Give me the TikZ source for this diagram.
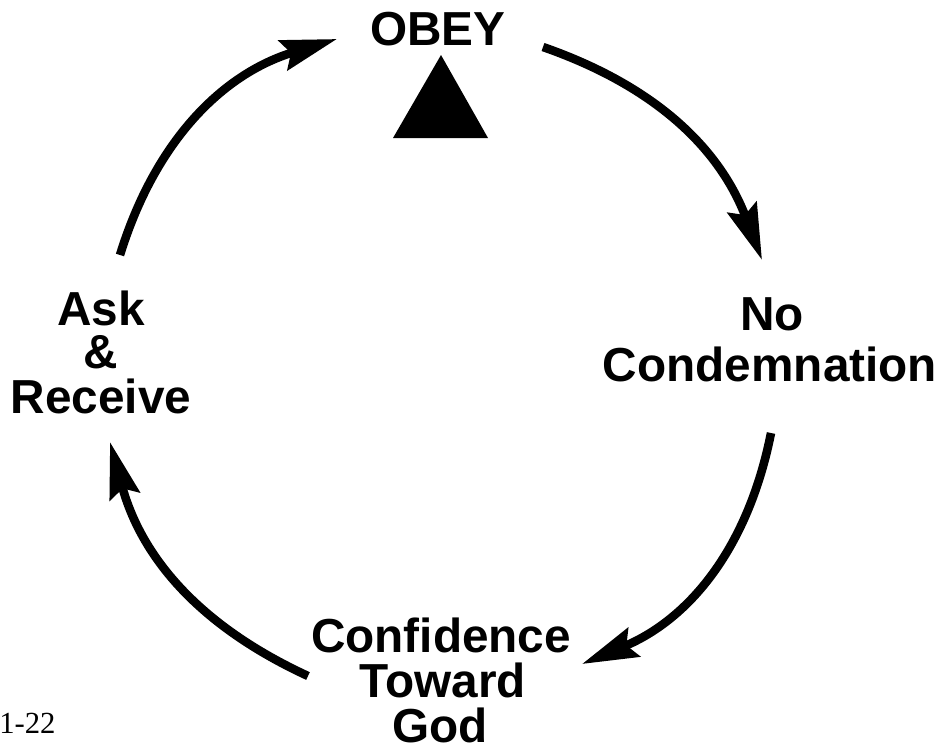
\documentclass[tikz,border=0pt]{standalone}
\usepackage{fontspec}
\setmainfont{Liberation Sans}
\newfontfamily\serifnum{Liberation Serif}
\usetikzlibrary{arrows.meta}
\tikzset{
  lbl/.style={font=\bfseries\fontsize{35.8}{36}\selectfont, anchor=base, inner sep=0pt},
  cyc/.style={line width=6.4pt, -{Stealth[length=42pt,width=23pt,inset=6pt]}},
}
\begin{document}
\begin{tikzpicture}[x=0.75pt,y=-0.75pt]
\useasboundingbox (0,0) rectangle (948,751);
% labels
\node[lbl] (obey) at (438,45) {OBEY};
\node[lbl] (no) at (772,330) {No};
\node[lbl] (cond) at (770,381) {Condemnation};
\node[lbl] (conf) at (441,652) {Confidence};
\node[lbl] (tow) at (443,697) {Toward};
\node[lbl] (god) at (440,742) {God};
\node[lbl] (ask) at (101,325) {Ask};
\node[lbl] (amp) at (101,368) {\&};
\node[lbl] (rec) at (101,413) {Receive};
\node[anchor=base west, inner sep=0pt, font=\serifnum\fontsize{23}{23}\selectfont] (pg) at (-1,733) {1-22};
% triangle
\fill (441,55) -- (393,138) -- (488,138) -- cycle;
% arrow end points
\coordinate (a1s) at (120,255);
\coordinate (a1e) at (337,39);
\coordinate (a2s) at (543,47);
\coordinate (a2e) at (762,260);
\coordinate (a3s) at (771,433);
\coordinate (a3e) at (582,664);
\coordinate (a4s) at (308,676);
\coordinate (a4e) at (110,442);
\draw[cyc] (a1s) to[bend left=28] (a1e);
\draw[cyc] (a2s) to[bend left=25] (a2e);
\draw[cyc] (a3s) to[bend left=28] (a3e);
\draw[cyc] (a4s) to[bend left=25] (a4e);
\end{tikzpicture}
\end{document}
